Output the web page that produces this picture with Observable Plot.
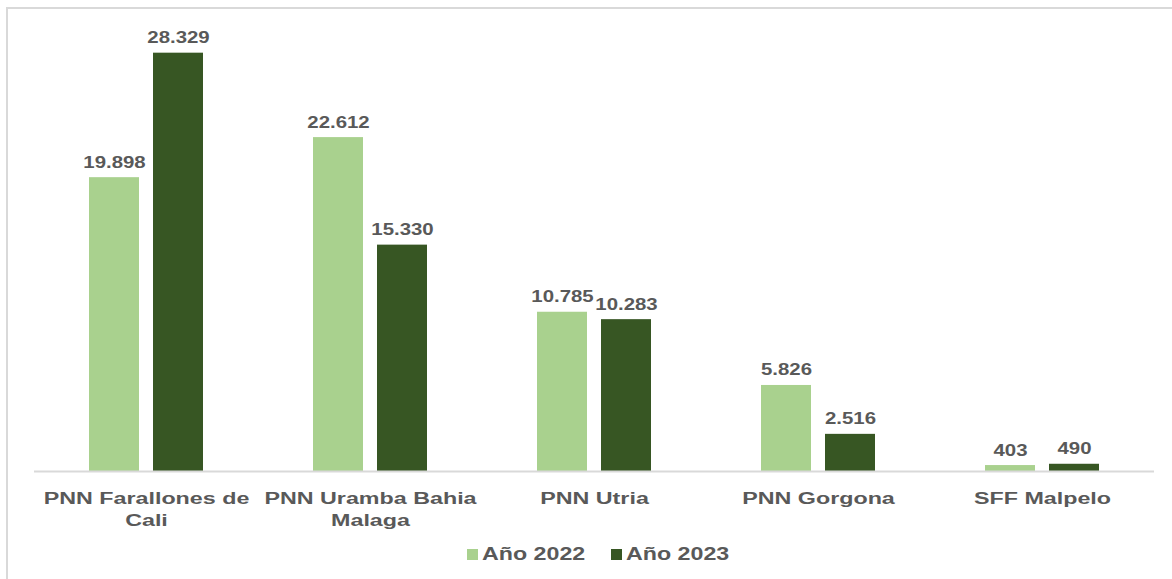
<!DOCTYPE html>
<html>
<head>
<meta charset="utf-8">
<script src="https://cdn.jsdelivr.net/npm/d3@7"></script>
<script src="https://cdn.jsdelivr.net/npm/@observablehq/plot@0.6"></script>
<style>
  html, body { margin: 0; padding: 0; background: #fff; }
  body { width: 1172px; height: 579px; position: relative; overflow: hidden;
         font-family: "Liberation Sans", Arial, sans-serif; }
  #frame { position: absolute; left: 6px; top: 7px; right: -10px; bottom: -10px;
           border-top: 2px solid #d9d9d9; border-left: 2px solid #d9d9d9; }
  #chart { position: absolute; left: 0; top: 0; }
  .sw { position: absolute; top: 549px; width: 11px; height: 11px; }
  .lt { position: absolute; top: 544px; font-weight: bold; font-size: 18px; color: #595959;
        transform-origin: left center; transform: scaleX(1.29); white-space: nowrap; }
</style>
</head>
<body>
<div id="frame"></div>
<div id="chart"></div>
<div class="sw" style="left:467px;background:#a9d18e"></div>
<div class="lt" style="left:482px">Año 2022</div>
<div class="sw" style="left:611px;background:#375623"></div>
<div class="lt" style="left:626px">Año 2023</div>
<script>
const parks = ["PNN Farallones de Cali", "PNN Uramba Bahia Malaga", "PNN Utria", "PNN Gorgona", "SFF Malpelo"];
const tickLabels = ["PNN Farallones de\nCali", "PNN Uramba Bahia\nMalaga", "PNN Utria", "PNN Gorgona", "SFF Malpelo"];
const years = ["Año 2022", "Año 2023"];
const values2022 = [19898, 22612, 10785, 5826, 403];
const values2023 = [28329, 15330, 10283, 2516, 490];
const colors = ["#a9d18e", "#375623"];

const data = [];
parks.forEach((p, i) => {
  data.push({park: p, year: years[0], value: values2022[i]});
  data.push({park: p, year: years[1], value: values2023[i]});
});
const fmt = n => n >= 1000 ? `${Math.floor(n / 1000)}.${String(n % 1000).padStart(3, "0")}` : String(n);
const tickMap = new Map(parks.map((p, i) => [p, tickLabels[i]]));

const chart = Plot.plot({
  width: 1172,
  height: 540,
  marginLeft: 33,
  marginRight: 17,
  marginTop: 28,
  marginBottom: 69,
  style: {fontFamily: "'Liberation Sans', Arial, sans-serif", color: "#595959", background: "transparent"},
  fx: {domain: parks, padding: 0, label: null},
  x: {domain: years, paddingInner: 0.21875, paddingOuter: 0.859, axis: null},
  y: {domain: [0, 30000], axis: null},
  color: {domain: years, range: colors},
  marks: [
    Plot.barY(data, {fx: "park", x: "year", y: "value", fill: "year"}),
    Plot.ruleY([0], {stroke: "#d9d9d9", strokeWidth: 2}),
    Plot.text(data, {fx: "park", x: "year", y: "value", text: d => fmt(d.value),
      lineAnchor: "bottom", dy: -10, fontSize: 17, fontWeight: "bold", fill: "#595959"}),
    Plot.axisFx({anchor: "bottom", tickSize: 0, tickPadding: 17, fontSize: 17, fontWeight: "bold",
      lineHeight: 1.29, fill: "#595959", label: null, tickFormat: d => tickMap.get(d)})
  ]
});
document.getElementById("chart").appendChild(chart);

// widen glyphs horizontally to match the reference's stretched lettering
chart.querySelectorAll("g[aria-label='text'] text").forEach(t => {
  t.setAttribute("transform", (t.getAttribute("transform") || "") + " scale(1.2,1)");
});
chart.querySelectorAll("g[aria-label='fx-axis tick label'] text").forEach(t => {
  t.setAttribute("transform", (t.getAttribute("transform") || "") + " scale(1.37,1)");
});
</script>
</body>
</html>
